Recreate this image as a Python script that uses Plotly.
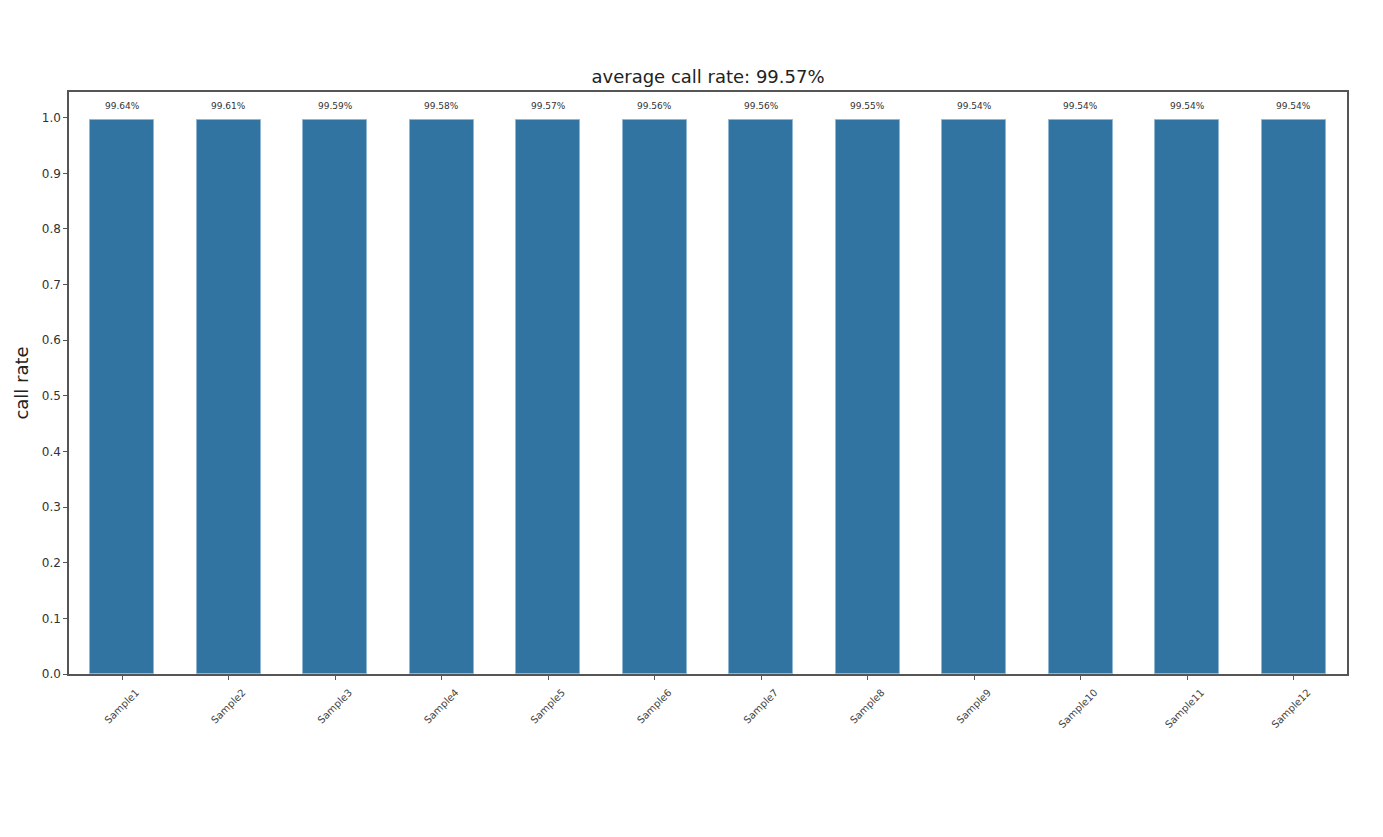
import plotly.graph_objects as go

samples = ["Sample1", "Sample2", "Sample3", "Sample4", "Sample5", "Sample6",
           "Sample7", "Sample8", "Sample9", "Sample10", "Sample11", "Sample12"]
call_rate = [0.9964, 0.9961, 0.9959, 0.9958, 0.9957, 0.9956,
             0.9956, 0.9955, 0.9954, 0.9954, 0.9954, 0.9954]
labels = ["99.64%", "99.61%", "99.59%", "99.58%", "99.57%", "99.56%",
          "99.56%", "99.55%", "99.54%", "99.54%", "99.54%", "99.54%"]
title_text = "average call rate: 99.57%"
y_ticks = [0.0, 0.1, 0.2, 0.3, 0.4, 0.5, 0.6, 0.7, 0.8, 0.9, 1.0]

FONT = "DejaVu Sans"
AXIS = "#555555"
W, H = 1367, 821
L, R = 61, 28

fig = go.Figure()
fig.add_trace(go.Bar(
    x=samples, y=call_rate, width=0.6,
    marker=dict(color="#3274a1", line=dict(color="#8fb6d3", width=1)),
    hoverinfo="x+y",
))

for s, v, t in zip(samples, call_rate, labels):
    fig.add_annotation(x=s, y=v, text=t, showarrow=False, yanchor="bottom",
                       yshift=7, font=dict(family=FONT, size=9, color="#333333"))

fig.update_layout(
    width=W, height=H,
    paper_bgcolor="white", plot_bgcolor="white",
    margin=dict(l=L, r=R, t=84, b=155),
    showlegend=False,
    bargap=0,
    title=dict(text=title_text, x=(L + (W - R)) / 2 / W, xanchor="center",
               y=1 - 69 / H, yanchor="middle",
               font=dict(family=FONT, size=18, color="#222222")),
    font=dict(family=FONT),
)
fig.update_xaxes(
    range=[-0.5, 11.5], showline=True, linecolor=AXIS, linewidth=1.5, mirror=True,
    ticks="outside", ticklen=4, tickcolor=AXIS, tickangle=-45,
    ticklabelshift=14, ticklabelstandoff=3,
    tickfont=dict(family=FONT, size=10, color="#444444"), showgrid=False,
)
fig.update_yaxes(
    range=[0, 1.0462], showline=True, linecolor=AXIS, linewidth=1.5, mirror=True,
    ticks="outside", ticklen=4, tickcolor=AXIS, tickvals=y_ticks,
    tickformat=".1f",
    tickfont=dict(family=FONT, size=12, color="#333333"), showgrid=False, zeroline=False,
    title=dict(text="call rate", font=dict(family=FONT, size=18, color="#222222"), standoff=8),
)

fig.write_html("out.html")
